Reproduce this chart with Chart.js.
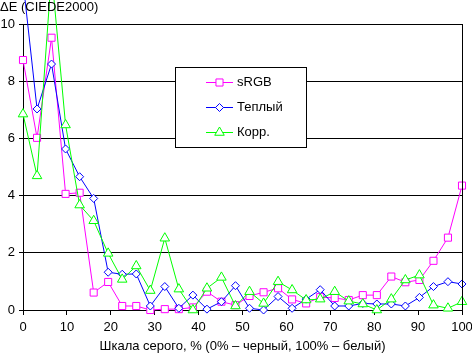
<!DOCTYPE html>
<html>
<head>
<meta charset="utf-8">
<script src="https://cdn.jsdelivr.net/npm/chart.js@4.4.1/dist/chart.umd.min.js"></script>
<style>
  html, body { margin: 0; padding: 0; background: #fff; }
  #wrap { width: 472px; height: 353px; position: relative; }
</style>
</head>
<body>
<div id="wrap"><canvas id="c" width="472" height="353"></canvas></div>
<script>
const grayLevels = [0, 3.2, 6.5, 9.7, 12.9, 16.1, 19.4, 22.6, 25.8, 29.0, 32.3, 35.5, 38.7, 41.9, 45.2, 48.4,
                    51.6, 54.8, 58.1, 61.3, 64.5, 67.7, 71.0, 74.2, 77.4, 80.6, 83.9, 87.1, 90.3, 93.5, 96.8, 100];
const srgbValues = [8.74, 6.02, 9.52, 4.06, 4.10, 0.61, 0.98, 0.14, 0.14, 0.00, 0.03, 0.03, 0.09, 0.64, 0.29, 0.17,
                    0.49, 0.62, 0.76, 0.37, 0.23, 0.45, 0.42, 0.35, 0.52, 0.52, 1.17, 0.97, 1.05, 1.72, 2.53, 4.35];
const warmValues = [11.5, 7.03, 8.60, 5.63, 4.66, 3.90, 1.32, 1.25, 1.26, 0.14, 0.82, 0.06, 0.52, 0.03, 0.29, 0.85,
                    0.06, 0.00, 0.47, 0.06, 0.38, 0.71, 0.14, 0.14, 0.23, 0.21, 0.21, 0.14, 0.44, 0.82, 0.99, 0.91];
const corrValues = [6.85, 4.69, 11.8, 6.47, 3.67, 3.12, 1.98, 1.07, 1.54, 0.68, 2.51, 0.73, 0.00, 0.76, 1.14, 0.14,
                    0.64, 0.23, 0.99, 0.70, 0.35, 0.38, 0.64, 0.31, 0.21, 0.00, 0.38, 1.05, 1.22, 0.17, 0.06, 0.29];
const seriesNames = ['sRGB', 'Теплый', 'Корр.'];
const yTitle = 'ΔE (CIEDE2000)';
const xTitle = 'Шкала серого, % (0% – черный, 100% – белый)';
const xTickValues = [0, 10, 20, 30, 40, 50, 60, 70, 80, 90, 100];
const yTickValues = [0, 2, 4, 6, 8, 10];

const FONT = '"Liberation Sans", Arial, sans-serif';

function pts(vals) { return grayLevels.map((x, i) => ({ x: x, y: vals[i] })); }

const styles = [
  { color: '#FF00FF', style: 'rect', radius: 5, order: 3 },
  { color: '#0000FF', style: 'rectRot', radius: 4, order: 2 },
  { color: '#00FF00', style: 'triangle', radius: 5.5, order: 1 }
];
const allVals = [srgbValues, warmValues, corrValues];

const datasets = allVals.map((v, i) => ({
  label: seriesNames[i],
  data: pts(v),
  borderColor: styles[i].color,
  backgroundColor: '#FFFFFF',
  borderWidth: 1,
  pointStyle: styles[i].style,
  pointRadius: styles[i].radius,
  pointBorderWidth: 1,
  pointBackgroundColor: '#FFFFFF',
  pointBorderColor: styles[i].color,
  tension: 0,
  order: styles[i].order,
  clip: false
}));

const extras = {
  id: 'extras',
  afterDraw(chart) {
    const ctx = chart.ctx;
    const a = chart.chartArea;
    ctx.save();
    // right border
    ctx.strokeStyle = '#000';
    ctx.lineWidth = 1;
    ctx.beginPath();
    ctx.moveTo(Math.round(a.right) + 0.5, a.top);
    ctx.lineTo(Math.round(a.right) + 0.5, a.bottom);
    ctx.stroke();
    // titles
    ctx.fillStyle = '#000';
    ctx.font = '13px ' + FONT;
    ctx.textBaseline = 'alphabetic';
    ctx.textAlign = 'left';
    ctx.fillText(yTitle, 0, 11);
    ctx.textAlign = 'center';
    ctx.fillText(xTitle, (a.left + a.right) / 2, 350);
    // legend
    const bx = 175.5, by = 67.5, bw = 131, bh = 80;
    ctx.fillStyle = '#fff';
    ctx.fillRect(bx, by, bw, bh);
    ctx.strokeStyle = '#000';
    ctx.strokeRect(bx, by, bw, bh);
    chart.data.datasets.forEach((ds, i) => {
      const yy = 82.5 + i * 25;
      ctx.strokeStyle = ds.borderColor;
      ctx.lineWidth = 1;
      ctx.beginPath();
      ctx.moveTo(206, yy);
      ctx.lineTo(233, yy);
      ctx.stroke();
      ctx.fillStyle = '#fff';
      ctx.strokeStyle = ds.borderColor;
      Chart.helpers.drawPoint(ctx, { pointStyle: ds.pointStyle, radius: ds.pointRadius, borderWidth: 1, rotation: 0 }, 219.5, yy);
      ctx.fillStyle = '#000';
      ctx.font = '13px ' + FONT;
      ctx.textAlign = 'left';
      ctx.textBaseline = 'middle';
      ctx.fillText(ds.label, 237, yy);
    });
    ctx.restore();
  }
};

new Chart(document.getElementById('c'), {
  type: 'line',
  data: { datasets: datasets },
  plugins: [extras],
  options: {
    responsive: false,
    animation: false,
    devicePixelRatio: 1,
    layout: { padding: { top: 24, right: 10, left: 0, bottom: 0 } },
    plugins: { legend: { display: false }, tooltip: { enabled: false }, title: { display: false } },
    scales: {
      x: {
        type: 'linear', min: 0, max: 100,
        afterBuildTicks(s) { s.ticks = xTickValues.map(v => ({ value: v })); },
        afterFit(s) { s.height = 43; s.paddingLeft = 0; s.paddingRight = 0; },
        grid: { display: true, drawOnChartArea: false, color: '#000', tickColor: '#000', tickLength: 5 },
        border: { display: true, color: '#000' },
        ticks: { color: '#000', font: { family: FONT, size: 13 }, padding: 5, maxRotation: 0, autoSkip: false }
      },
      y: {
        type: 'linear', min: 0, max: 10,
        afterBuildTicks(s) { s.ticks = yTickValues.map(v => ({ value: v })); },
        afterFit(s) { s.width = 23; s.paddingTop = 0; s.paddingBottom = 0; },
        grid: { display: true, color: '#000', tickColor: '#000', tickLength: 4 },
        border: { display: true, color: '#000' },
        ticks: { color: '#000', font: { family: FONT, size: 13 }, padding: 4 }
      }
    }
  }
});
</script>
</body>
</html>
